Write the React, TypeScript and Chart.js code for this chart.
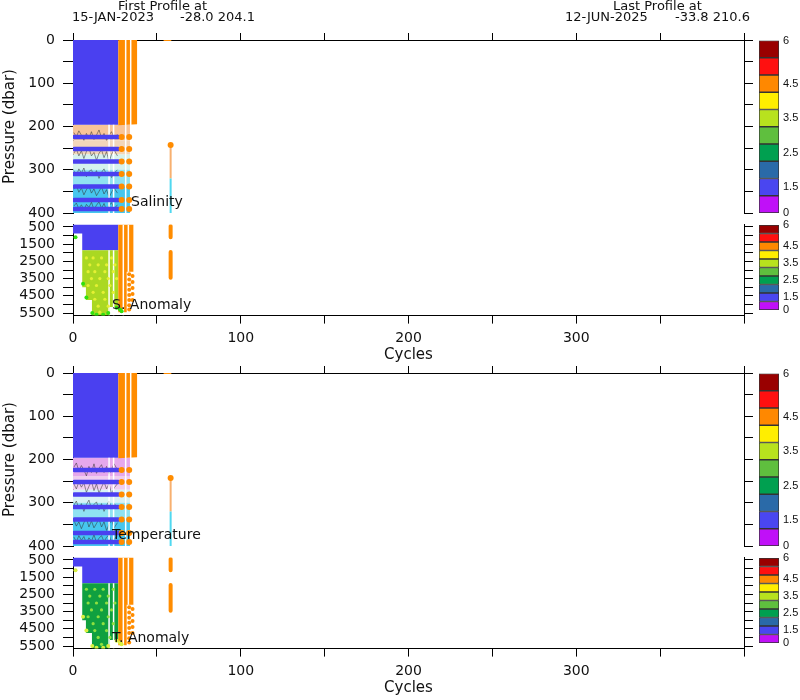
import React, { useEffect, useRef } from "react";
import { Chart, registerables } from "chart.js";
Chart.register(...registerables);

const W = 800;
const H = 700;
const PLOT_LEFT = 73;
const PLOT_RIGHT = 744;
const CB_LEFT = 759;
const CB_RIGHT = 779;
const HALF_OFFSET = 333;
const FONT = "DejaVu Sans";
const TEXT = "#111";

// ---- axes ----
const cycleMax = 400;
const cycleTickValues = [0, 50, 100, 150, 200, 250, 300, 350, 400];
const cycleTickLabels = ["0", "", "100", "", "200", "", "300", "", ""];
const shallowTickValues = [0, 50, 100, 150, 200, 250, 300, 350, 400];
const shallowTickLabels = ["0", "", "100", "", "200", "", "300", "", "400"];
const deepTickValues = [500, 1000, 1500, 2000, 2500, 3000, 3500, 4000, 4500, 5000, 5500];
const deepTickLabels = ["500", "", "1500", "", "2500", "", "3500", "", "4500", "", "5500"];

// ---- colour bar ----
const cbColors = ["#c010f8", "#4a46f0", "#2a6aa8", "#00a050", "#5fbf3e", "#b8e21e", "#ffee00", "#ff8800", "#ff1010", "#990000"];
const cbTickPos = [0, 1.5, 3.5, 5.5, 7.5, 10];
const cbTickLabels = ["0", "1.5", "2.5", "3.5", "4.5", "6"];

// ---- header ----
const firstProfileDate = "15-JAN-2023";
const firstProfilePos = "-28.0 204.1";
const lastProfileDate = "12-JUN-2025";
const lastProfilePos = "-33.8 210.6";

// ---- shallow (0-400 dbar) data ----
const BLUE = "#4a40f0";
const ORANGE = "#ff8c00";
const blueBlockShallow = [[0, 0], [27, 0], [27, 196], [0, 196]];
const orangeBlockShallow = [[27, 0], [38.2, 0], [38.2, 195], [27, 197]];
const bandCycleEnd = 34;
const salBandEdges = [196, 232, 265, 300, 340, 400];
const salBandColors = ["#f8c498", "#f2d6ba", "#d6f2ee", "#8fe2f2", "#46c6ee"];
const tempBandEdges = [196, 238, 270, 300, 340, 400];
const tempBandColors = ["#e6a8ec", "#f0cdf0", "#d8f2f6", "#8fe2f2", "#46c6ee"];
const gapsShallow = [[21.5, 196, 400], [24.2, 196, 400], [31.4, 0, 400], [34.4, 0, 400]];
const sampleLinePressures = [224, 252, 281, 310, 339, 370, 391];
const sampleLineEnd = 27;
const sampleDotCycles = [29, 33.5];
const isoCycle = 58.2;
const isoTopDash = [[54, 0], [58.6, 0], [58.6, 2.5], [54, 2.5]];
const isoShallowTop = 243;
const isoShallowMid = 320;

const salContours = [
  [[0.5, 214], [2, 224], [3.5, 210], [5, 220], [6.5, 232], [8, 216], [9.5, 228], [11, 212], [12.5, 230], [14, 220], [15.5, 208], [17, 226], [18.5, 216], [20, 232], [21.5, 220], [23, 212], [24.5, 226], [26.5, 218]],
  [[0.5, 262], [2, 252], [3.5, 268], [5, 256], [6.5, 274], [8, 258], [9.5, 250], [11, 268], [12.5, 260], [14, 278], [15.5, 262], [17, 254], [18.5, 272], [20, 258], [21.5, 282], [23, 264], [24.5, 254], [26.5, 268]],
  [[0.5, 302], [2, 314], [3.5, 298], [5, 308], [6.5, 296], [8, 316], [9.5, 304], [11, 300], [12.5, 314], [14, 302], [15.5, 320], [17, 306], [18.5, 298], [20, 312], [21.5, 302], [23, 318], [24.5, 308], [26.5, 300]],
  [[0.5, 345], [2, 336], [3.5, 352], [5, 342], [6.5, 358], [8, 346], [9.5, 338], [11, 354], [12.5, 344], [14, 360], [15.5, 350], [17, 340], [18.5, 356], [20, 346], [21.5, 364], [23, 352], [24.5, 342], [26.5, 354]],
  [[0.5, 384], [2, 377], [3.5, 390], [5, 381], [6.5, 393], [8, 380], [9.5, 387], [11, 375], [12.5, 392], [14, 382], [15.5, 374], [17, 389], [18.5, 378], [20, 394], [21.5, 383], [23, 376], [24.5, 390], [26.5, 381]],
];
const tempContours = [
  [[0.5, 218], [2, 208], [3.5, 226], [5, 214], [6.5, 224], [8, 238], [9.5, 216], [11, 230], [12.5, 210], [14, 232], [15.5, 220], [17, 212], [18.5, 230], [20, 216], [21.5, 234], [23, 222], [24.5, 210], [26.5, 224]],
  [[0.5, 256], [2, 268], [3.5, 252], [5, 264], [6.5, 254], [8, 276], [9.5, 262], [11, 250], [12.5, 272], [14, 256], [15.5, 278], [17, 264], [18.5, 252], [20, 268], [21.5, 256], [23, 280], [24.5, 266], [26.5, 256]],
  [[0.5, 306], [2, 296], [3.5, 314], [5, 302], [6.5, 320], [8, 304], [9.5, 294], [11, 314], [12.5, 304], [14, 298], [15.5, 316], [17, 302], [18.5, 320], [20, 306], [21.5, 296], [23, 314], [24.5, 302], [26.5, 310]],
  [[0.5, 340], [2, 354], [3.5, 344], [5, 360], [6.5, 346], [8, 336], [9.5, 356], [11, 342], [12.5, 358], [14, 348], [15.5, 338], [17, 356], [18.5, 344], [20, 364], [21.5, 350], [23, 340], [24.5, 358], [26.5, 346]],
  [[0.5, 379], [2, 390], [3.5, 376], [5, 387], [6.5, 378], [8, 394], [9.5, 381], [11, 389], [12.5, 374], [14, 392], [15.5, 382], [17, 376], [18.5, 390], [20, 380], [21.5, 374], [23, 392], [24.5, 384], [26.5, 377]],
];

// ---- deep (500-5500 dbar) data ----
const deepMin = 350;
const deepMax = 5650;
const blueBlockDeep = [[0, 350], [27, 350], [27, 1850], [5.5, 1850], [5.5, 880], [0, 880]];
const anomalyPoly = [[5.5, 1850], [27, 1850], [27, 5150], [22, 5150], [22, 5650], [11.3, 5650], [11.3, 4750], [7.7, 4750], [7.7, 4000], [5.5, 4000]];
const orangeDeepPoly = [[27, 350], [36, 350], [36, 3100], [32, 3100], [32, 5450], [27, 5450]];
const gapsDeep = [[21.5, 1850, 5650], [24.2, 1850, 5650], [30, 350, 5650], [33, 350, 3100]];
const orangeDeepDots = [[33.5, 3250], [33.5, 3550], [33.5, 3850], [33.5, 4150], [33.5, 4450], [33.5, 4750], [33.5, 5050], [33.5, 5300], [35.5, 3350], [35.5, 3700], [35.5, 4050], [35.5, 4400], [35.5, 4750]];
const isoDeepSegments = [[450, 1100], [1950, 3450]];
const sAnomColor = "#aad822";
const sAnomLightDots = [[8, 2300], [12, 2300], [17, 2300], [23, 2300], [10, 2700], [15, 2700], [20, 2700], [25, 2700], [9, 3100], [13, 3100], [19, 3100], [24, 3100], [11, 3500], [16, 3500], [21, 3500], [26, 3500], [9, 3900], [14, 3900], [22, 3900], [12, 4300], [18, 4300], [24, 4300], [13, 4700], [19, 4700], [15, 5100], [21, 5100], [16, 5450]];
const sAnomEdgeDots = [[1.5, 1100], [6, 3800], [8, 4600], [11.5, 5500], [14, 5600], [18, 5600], [21, 5500], [26, 5200], [28, 5300], [29, 5400]];
const tAnomColor = "#10a040";
const tAnomLightDots = [[8, 2200], [13, 2200], [18, 2200], [24, 2200], [10, 2600], [16, 2600], [21, 2600], [9, 3000], [14, 3000], [20, 3000], [25, 3000], [11, 3400], [17, 3400], [23, 3400], [9, 3800], [15, 3800], [21, 3800], [12, 4200], [18, 4200], [24, 4200], [13, 4600], [20, 4600], [15, 5000], [22, 5000], [17, 5400]];
const tAnomEdgeDots = [[1.5, 1100], [6, 3800], [8, 4600], [11.5, 5500], [14, 5600], [18, 5600], [21, 5500], [26, 5200], [28, 5300], [29, 5400]];

// ---- dataset helpers ----
const toXY = (pts: number[][]) => pts.map(([x, y]) => ({ x, y }));
const poly = (pts: number[][], color: string) => ({
  type: "line", data: toXY(pts), backgroundColor: color, borderColor: "rgba(0,0,0,0)",
  borderWidth: 0, pointRadius: 0, fill: "shape", tension: 0,
});
const seg = (pts: number[][], color: string, width: number, cap = "butt") => ({
  type: "line", data: toXY(pts), borderColor: color, backgroundColor: color,
  borderWidth: width, pointRadius: 0, fill: false, tension: 0, borderCapStyle: cap,
});
const dots = (pts: number[][], color: string, r: number) => ({
  type: "line", data: toXY(pts), showLine: false, pointRadius: r, pointBackgroundColor: color,
  pointBorderWidth: 0, pointBorderColor: color, borderColor: color, backgroundColor: color, fill: false,
});

function shallowDatasets(bandEdges: number[], bandColors: string[], contours: number[][][]) {
  const ds: any[] = [];
  bandColors.forEach((c, i) => {
    ds.push(poly([[0, bandEdges[i]], [bandCycleEnd, bandEdges[i]], [bandCycleEnd, bandEdges[i + 1]], [0, bandEdges[i + 1]]], c));
  });
  contours.forEach((c) => ds.push(seg(c, "rgba(50,50,50,0.75)", 0.7)));
  ds.push(poly(blueBlockShallow, BLUE));
  ds.push(poly(orangeBlockShallow, ORANGE));
  gapsShallow.forEach(([c, a, b]) => ds.push(seg([[c, a], [c, b]], "#ffffff", 1.5)));
  sampleLinePressures.forEach((p) => ds.push(seg([[0.8, p], [sampleLineEnd, p]], BLUE, 4.5, "round")));
  const sd: number[][] = [];
  sampleLinePressures.forEach((p) => sampleDotCycles.forEach((c) => sd.push([c, p])));
  ds.push(dots(sd, ORANGE, 3));
  ds.push(poly(isoTopDash, ORANGE));
  ds.push(seg([[isoCycle, isoShallowTop], [isoCycle, isoShallowMid]], "#f7b070", 2));
  ds.push(seg([[isoCycle, isoShallowMid], [isoCycle, 400]], "#50d8f0", 2));
  ds.push(dots([[isoCycle, isoShallowTop]], ORANGE, 3));
  return ds;
}

function deepDatasets(anomColor: string, lightDots: number[][], lightColor: string, edgeDots: number[][], edgeColor: string) {
  const ds: any[] = [];
  ds.push(poly(blueBlockDeep, BLUE));
  ds.push(poly(anomalyPoly, anomColor));
  ds.push(poly(orangeDeepPoly, ORANGE));
  gapsDeep.forEach(([c, a, b]) => ds.push(seg([[c, a], [c, b]], "#ffffff", 1.5)));
  ds.push(dots(lightDots, lightColor, 1.6));
  ds.push(dots(edgeDots, edgeColor, 2));
  ds.push(dots(orangeDeepDots, ORANGE, 2));
  isoDeepSegments.forEach(([a, b]) => ds.push(seg([[isoCycle, a], [isoCycle, b]], ORANGE, 4, "round")));
  return ds;
}

const textPlugin = (texts: { t: string; x: number; y: number }[]) => ({
  id: "panelText",
  afterDatasetsDraw(chart: any) {
    const ctx = chart.ctx;
    ctx.save();
    ctx.font = `14px "${FONT}"`;
    ctx.fillStyle = TEXT;
    ctx.textBaseline = "middle";
    ctx.textAlign = "left";
    texts.forEach((t) => ctx.fillText(t.t, chart.scales.x.getPixelForValue(t.x), chart.scales.y.getPixelForValue(t.y)));
    ctx.restore();
  },
});

const headerPlugin = {
  id: "header",
  afterDraw(chart: any) {
    const ctx = chart.ctx;
    ctx.save();
    ctx.font = `13px "${FONT}"`;
    ctx.fillStyle = TEXT;
    ctx.textBaseline = "middle";
    ctx.textAlign = "left";
    ctx.fillText("First Profile at", 118, 7);
    ctx.fillText(firstProfileDate, 72, 18);
    ctx.fillText(firstProfilePos, 180, 18);
    ctx.fillText("Last Profile at", 613, 7);
    ctx.fillText(lastProfileDate, 565, 18);
    ctx.fillText(lastProfilePos, 675, 18);
    ctx.restore();
  },
};

type PanelSpec = {
  top: number; bottom: number; yMin: number; yMax: number; yTicks: number[]; yLabels: string[];
  xPos: "top" | "bottom"; yTitle: boolean; datasets: any[]; texts: { t: string; x: number; y: number }[]; header?: boolean;
};

function panelConfig(p: PanelSpec): any {
  const TH = 8, BH = 48.4, LW = 72, RW = 10;
  const tickFont = { family: FONT, size: 14 };
  const setY = (s: any) => { s.ticks = p.yTicks.map((v) => ({ value: v })); };
  const axisGrid = (len: number) => ({ drawOnChartArea: false, drawTicks: true, tickLength: len, color: "#000", lineWidth: 1 });
  return {
    type: "line",
    data: { datasets: p.datasets.slice().reverse() },
    options: {
      animation: false, responsive: false, devicePixelRatio: 1, events: [],
      layout: {
        padding: {
          left: PLOT_LEFT - LW, right: W - PLOT_RIGHT - RW,
          top: p.xPos === "top" ? p.top - TH : p.top,
          bottom: p.xPos === "bottom" ? H - p.bottom - BH : H - p.bottom,
        },
      },
      plugins: { legend: { display: false }, tooltip: { enabled: false } },
      scales: {
        x: {
          type: "linear", min: 0, max: cycleMax, position: p.xPos,
          afterBuildTicks: (s: any) => { s.ticks = cycleTickValues.map((v) => ({ value: v })); },
          afterFit: (s: any) => { s.height = p.xPos === "top" ? TH : BH; },
          ticks: {
            display: p.xPos === "bottom", autoSkip: false, maxRotation: 0, padding: 6, font: tickFont, color: TEXT,
            callback: (v: number) => cycleTickLabels[cycleTickValues.indexOf(v)] ?? "",
          },
          grid: axisGrid(p.xPos === "top" ? 7 : 8),
          border: { display: true, color: "#000", width: 1 },
          title: { display: p.xPos === "bottom", text: "Cycles", font: { family: FONT, size: 15 }, color: TEXT, padding: 0 },
        },
        y: {
          type: "linear", reverse: true, min: p.yMin, max: p.yMax, position: "left",
          afterBuildTicks: setY,
          afterFit: (s: any) => { s.width = LW; },
          ticks: { autoSkip: false, padding: 8, font: tickFont, color: TEXT, callback: (v: number) => p.yLabels[p.yTicks.indexOf(v)] ?? "" },
          grid: axisGrid(10),
          border: { display: true, color: "#000", width: 1 },
          title: { display: p.yTitle, text: "Pressure (dbar)", font: { family: FONT, size: 15 }, color: TEXT, padding: 0 },
        },
        y2: {
          type: "linear", reverse: true, min: p.yMin, max: p.yMax, position: "right",
          afterBuildTicks: setY,
          afterFit: (s: any) => { s.width = RW; },
          ticks: { display: false },
          grid: axisGrid(9),
          border: { display: true, color: "#000", width: 1 },
        },
      },
    },
    plugins: [textPlugin(p.texts), ...(p.header ? [headerPlugin] : [])],
  };
}

function colorbarConfig(top: number, bottom: number): any {
  return {
    type: "bar",
    data: {
      labels: [""],
      datasets: cbColors.map((c) => ({
        data: [1], backgroundColor: c, borderColor: "#333", borderWidth: 1, borderSkipped: false,
        barPercentage: 1, categoryPercentage: 1,
      })),
    },
    options: {
      animation: false, responsive: false, devicePixelRatio: 1, events: [],
      layout: { padding: { left: CB_LEFT, right: 0, top, bottom: H - bottom } },
      plugins: { legend: { display: false }, tooltip: { enabled: false } },
      scales: {
        x: { display: false, stacked: true },
        y: {
          stacked: true, min: 0, max: 10, position: "right",
          afterBuildTicks: (s: any) => { s.ticks = cbTickPos.map((v) => ({ value: v })); },
          afterFit: (s: any) => { s.width = W - CB_RIGHT; },
          ticks: {
            autoSkip: false, padding: 4, color: TEXT, font: { family: "Liberation Sans", size: 11 },
            callback: (v: number) => cbTickLabels[cbTickPos.indexOf(v)] ?? "",
          },
          grid: { display: false, drawTicks: false, tickLength: 0 },
          border: { display: false },
        },
      },
    },
  };
}

function buildConfigs(): any[] {
  const cfgs: any[] = [];
  const halves = [
    { off: 0, bands: [salBandEdges, salBandColors] as any, contours: salContours, label: "Salinity", labelX: 34.6,
      anom: sAnomColor, light: sAnomLightDots, lightColor: "#e4f034", edge: sAnomEdgeDots, edgeColor: "#30e010", anomLabel: "S. Anomaly" },
    { off: HALF_OFFSET, bands: [tempBandEdges, tempBandColors] as any, contours: tempContours, label: "Temperature", labelX: 23.3,
      anom: tAnomColor, light: tAnomLightDots, lightColor: "#8ee040", edge: tAnomEdgeDots, edgeColor: "#d8f040", anomLabel: "T. Anomaly" },
  ];
  halves.forEach((h, i) => {
    cfgs.push(panelConfig({
      top: 40 + h.off, bottom: 213 + h.off, yMin: 0, yMax: 400, yTicks: shallowTickValues, yLabels: shallowTickLabels,
      xPos: "top", yTitle: true, datasets: shallowDatasets(h.bands[0], h.bands[1], h.contours),
      texts: [{ t: h.label, x: h.labelX, y: 375 }], header: i === 0,
    }));
    cfgs.push(panelConfig({
      top: 224.4 + h.off, bottom: 315.6 + h.off, yMin: deepMin, yMax: deepMax, yTicks: deepTickValues, yLabels: deepTickLabels,
      xPos: "bottom", yTitle: false, datasets: deepDatasets(h.anom, h.light, h.lightColor, h.edge, h.edgeColor),
      texts: [{ t: h.anomLabel, x: 23.3, y: 5033 }],
    }));
    cfgs.push(colorbarConfig(40.5 + h.off, 213 + h.off));
    cfgs.push(colorbarConfig(225 + h.off, 310 + h.off));
  });
  return cfgs;
}

export default function App() {
  const refs = useRef<(HTMLCanvasElement | null)[]>([]);
  useEffect(() => {
    const charts: Chart[] = [];
    buildConfigs().forEach((cfg, i) => {
      const c = refs.current[i];
      if (c) charts.push(new Chart(c, cfg));
    });
    return () => charts.forEach((c) => c.destroy());
  }, []);
  return (
    <div style={{ position: "fixed", left: 0, top: 0, width: W, height: H, background: "#fff" }}>
      {Array.from({ length: 8 }).map((_, i) => (
        <canvas
          key={i}
          ref={(el) => { refs.current[i] = el; }}
          width={W}
          height={H}
          style={{ position: "absolute", left: 0, top: 0, width: W, height: H }}
        />
      ))}
    </div>
  );
}
